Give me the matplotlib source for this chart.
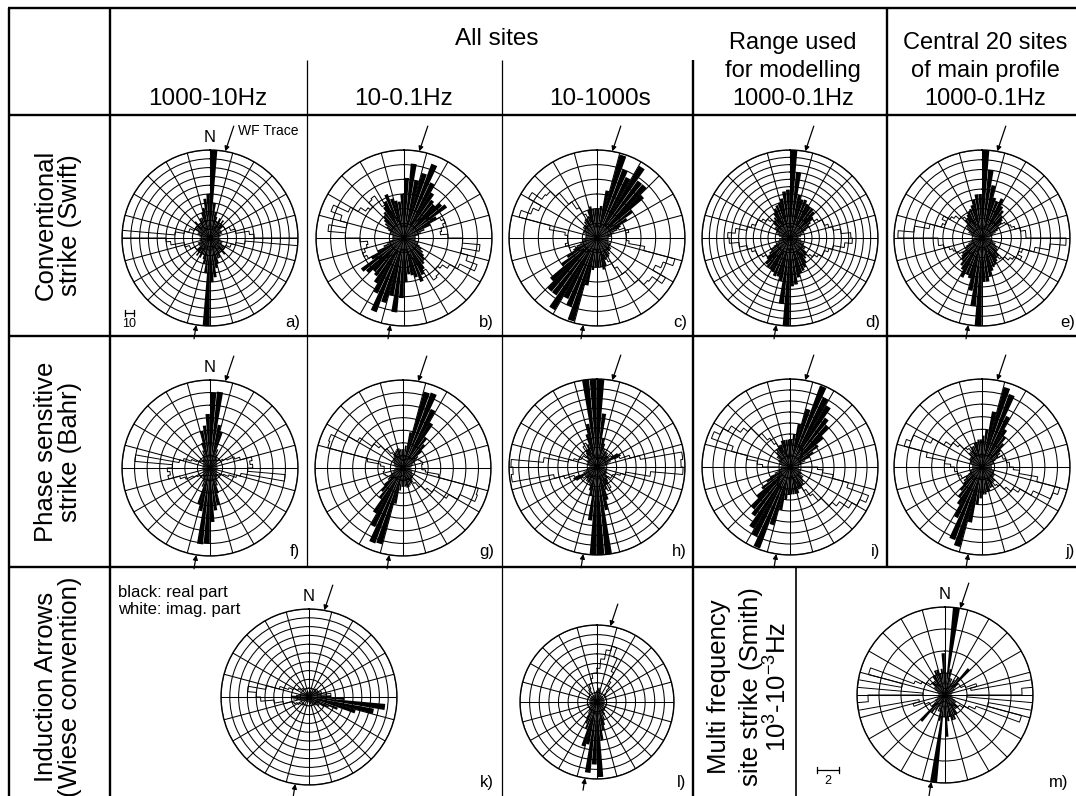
import numpy as np
import matplotlib.pyplot as plt

plt.rcParams['font.family'] = ['Liberation Sans', 'DejaVu Sans']
plt.rcParams['mathtext.fontset'] = 'custom'
plt.rcParams['mathtext.rm'] = 'Liberation Sans'
plt.rcParams['mathtext.it'] = 'Liberation Sans:italic'

W, H = 1076, 796

# rose values in ring units, 5 degree bins from north, clockwise
# axial data: 36 bins (0-180), repeated on the opposite side
a_black = [10, 4, 3, 2.5, 2, 2.5, 2, 2.5, 2, 2, 1.5, 1.5, 1.5, 1.5, 1.2, 1.2, 1.2, 1.0,
           1.0, 1.2, 1.2, 1.5, 1.5, 1.5, 2, 2, 2, 2.5, 2, 2, 2.5, 2.5, 3, 3.5, 4.5, 5]
a_white = [1, 1, 1, 1.2, 1.2, 1.5, 1.5, 1.5, 2, 2, 2, 2, 2.5, 2.5, 3, 3, 4.5, 5,
           10, 4, 3, 2.5, 2.5, 2, 2, 2, 2, 1.5, 1.5, 1.5, 1.2, 1.2, 1, 1, 1, 1]
b_black = [4.1, 5.1, 4.0, 4.6, 5.4, 4.2, 3.6, 3.2, 3.0, 3.4, 3.6, 2.6, 2.0, 1.5, 1.2, 1.0, 0.8, 0.8,
           0.8, 0.8, 0.8, 1.0, 1.0, 1.2, 1.4, 1.6, 1.8, 2.0, 2.2, 2.5, 2.8, 3.2, 2.8, 2.6, 2.5, 3.0]
b_white = [0.8, 0.8, 0.9, 1.0, 1.0, 1.2, 1.4, 1.5, 1.8, 2.0, 2.2, 2.4, 2.8, 3.0, 2.8, 2.6, 2.5, 3.0,
           4.0, 5.2, 4.0, 4.5, 5.3, 4.2, 3.6, 3.2, 3.0, 3.4, 3.5, 2.6, 2.0, 1.5, 1.2, 1.0, 0.8, 0.8]
c_black = [2.0, 2.2, 3.3, 5.9, 5.0, 4.6, 5.7, 4.8, 4.8, 4.2, 3.0, 2.4, 1.8, 1.5, 1.2, 1.0, 1.0, 0.8,
           0.8, 0.8, 0.8, 0.8, 1.0, 1.0, 1.0, 1.2, 1.2, 1.2, 1.4, 1.5, 1.5, 1.6, 2.0, 2.2, 2.0, 2.0]
c_white = [0.8, 0.8, 0.8, 0.8, 1.0, 1.0, 1.0, 1.2, 1.2, 1.2, 1.4, 1.5, 1.5, 1.6, 2.0, 2.2, 2.0, 2.0,
           2.0, 2.2, 3.3, 5.5, 4.8, 4.4, 5.4, 4.6, 4.5, 4.0, 3.0, 2.4, 1.8, 1.5, 1.2, 1.0, 1.0, 0.8]
d_black = [12, 9, 6, 5.5, 5.6, 5.2, 5.0, 5.0, 4.8, 4.2, 3.5, 3.0, 2.5, 2.0, 1.8, 1.5, 1.5, 1.2,
           1.2, 1.5, 1.5, 1.8, 2.0, 2.0, 2.5, 2.5, 3.0, 3.2, 3.5, 4.0, 4.5, 4.8, 5.0, 5.5, 6.4, 6.6]
d_white = [1.5, 1.5, 1.5, 2, 2, 2.5, 3, 3, 3.5, 3.5, 4, 4.5, 5, 5, 5.5, 6, 7, 8.3,
           8.5, 7.5, 6, 5.5, 5, 5, 4.5, 4, 3.5, 3, 3, 2.5, 2.5, 2, 2, 1.5, 1.5, 1.5]
e_black = [9, 7, 5.5, 4.3, 4, 4.5, 3.8, 3.5, 3, 2.8, 2.5, 2, 1.8, 1.5, 1.2, 1, 1, 0.8,
           0.8, 1, 1, 1.2, 1.5, 1.5, 1.8, 2, 2, 2.5, 2.5, 2.8, 3, 3.2, 3.5, 4, 4.5, 4.5]
e_white = [0.8, 1, 1, 1.2, 1.5, 1.5, 1.8, 2, 2, 2.5, 2.5, 2.8, 3, 3.2, 3.5, 4, 4.5, 4.5,
           8.6, 7, 5.5, 4.3, 4, 4.5, 3.8, 3.5, 3, 2.8, 2.5, 2, 1.8, 1.5, 1.2, 1, 1, 0.8]
f_black = [6.0, 6.1, 3.5, 3.0, 1.6, 1.2, 1.0, 0.9, 0.8, 0.8, 0.7, 0.7, 0.6, 0.6, 0.6, 0.6, 0.6, 0.6,
           0.6, 0.6, 0.6, 0.6, 0.6, 0.6, 0.7, 0.7, 0.8, 0.8, 0.9, 1.0, 1.2, 1.5, 2.1, 3.0, 3.4, 4.3]
f_white = [0.6, 0.6, 0.6, 0.6, 0.6, 0.7, 0.7, 0.8, 0.8, 0.9, 1.0, 1.2, 1.5, 2.1, 2.5, 3.4, 3.2, 3.4,
           3.0, 6.0, 2.5, 2.2, 1.6, 1.2, 1.0, 0.9, 0.8, 0.8, 0.7, 0.7, 0.6, 0.6, 0.6, 0.6, 0.6, 0.6]
g_black = [1.5, 1.8, 2.9, 6.3, 6.4, 5.2, 4.2, 3.0, 2.5, 2.0, 1.5, 1.2, 1.0, 0.9, 0.8, 0.7, 0.7, 0.6,
           0.6, 0.6, 0.7, 0.7, 0.8, 0.8, 0.9, 1.0, 1.0, 1.1, 1.2, 1.3, 1.4, 1.5, 1.6, 1.6, 1.5, 1.5]
g_white = [0.6, 0.6, 0.7, 0.7, 0.8, 0.8, 0.9, 1.0, 1.0, 1.1, 1.2, 1.3, 1.4, 1.5, 1.6, 1.6, 1.5, 1.5,
           1.5, 1.8, 2.9, 6.2, 6.3, 5.0, 4.2, 3.0, 2.5, 2.0, 1.5, 1.2, 1.0, 0.9, 0.8, 0.7, 0.7, 0.6]
h_black = [9, 5.5, 3, 2.5, 2, 1.8, 1.8, 1.8, 1.5, 1.5, 1.5, 2.5, 2.7, 1.5, 1.2, 1, 1, 0.8,
           0.8, 0.8, 1, 1, 1, 1.2, 1.2, 1.2, 1.5, 1.5, 1.8, 2, 2, 2.5, 3.5, 4.5, 9, 9]
h_white = [0.8, 0.8, 1, 1, 1, 1.2, 1.2, 1.2, 1.5, 1.5, 1.8, 2, 2, 2.5, 3.5, 4.5, 8.8, 8.6,
           8.8, 5.5, 3, 2.5, 2, 1.8, 1.8, 1.8, 1.5, 1.5, 1.5, 2.5, 2.7, 1.5, 1.2, 1, 1, 0.8]
i_black = [2.5, 3, 4, 5.5, 7.9, 7, 6.5, 5.5, 5, 4, 3.2, 2.5, 2, 1.5, 1.2, 1, 0.8, 0.8,
           0.8, 0.8, 0.8, 1, 1, 1.2, 1.2, 1.5, 1.5, 1.8, 2, 2, 2.2, 2.2, 2.5, 2.5, 2.5, 2.5]
i_white = [2.5, 2.5, 2.5, 2.2, 2.2, 2, 2, 1.8, 1.5, 1.5, 1.2, 1.2, 1, 1, 1, 0.8, 0.8, 0.8,
           2.5, 3, 4, 5.5, 7.6, 7, 6.5, 5.5, 5, 4, 3.2, 2.5, 2, 1.5, 1.2, 1, 0.8, 0.8]
j_black = [2.5, 3, 4.5, 6.6, 6.2, 4.5, 3.5, 3, 2.5, 2, 1.8, 1.5, 1.2, 1, 1, 0.8, 0.8, 0.8,
           0.8, 0.8, 0.8, 1, 1, 1, 1.2, 1.2, 1.2, 1.5, 1.5, 1.5, 1.8, 1.8, 2, 2, 2.2, 2.2]
j_white = [0.8, 0.8, 0.8, 1, 1, 1, 1.2, 1.2, 1.2, 1.5, 1.5, 1.5, 1.8, 1.8, 2, 2, 2.2, 2.2,
           2.5, 3, 4.5, 6.4, 6, 4.5, 3.5, 3, 2.5, 2, 1.8, 1.5, 1.2, 1, 1, 0.8, 0.8, 0.8]
# induction arrows are directional: 72 bins over the full circle
k_black = [0.8, 0.8, 0.6, 0.6, 0.6, 0.8, 0.8, 0.8, 1.0, 1.0, 1.0, 1.2,
           1.2, 1.2, 1.5, 1.5, 2.0, 2.5, 4.0, 8.7, 7.5, 5.5, 3.5, 2.5,
           2.0, 1.5, 1.5, 1.2, 1.2, 1.0, 1.0, 0.8, 0.8, 0.8, 0.6, 0.6,
           0.6, 0.6, 0.6, 0.6, 0.6, 0.6, 0.6, 0.6, 0.6, 0.8, 0.8, 0.8,
           1.0, 1.0, 1.2, 1.5, 1.8, 2.0, 2.0, 1.5, 1.2, 1.0, 1.0, 0.8,
           0.8, 0.8, 0.6, 0.6, 0.6, 0.6, 0.6, 0.6, 0.6, 0.6, 0.6, 0.6]
k_white = [1.0, 1.0, 1.0, 1.0, 1.0, 1.0, 1.0, 1.0, 1.2, 1.2, 1.2, 1.2,
           1.2, 1.5, 1.5, 2.0, 2.5, 2.5, 2.0, 1.5, 1.5, 1.2, 1.2, 1.2,
           1.0, 1.0, 1.0, 1.0, 1.0, 1.0, 1.0, 1.0, 1.0, 1.0, 1.0, 1.0,
           1.0, 1.0, 1.0, 1.0, 1.0, 1.0, 1.0, 1.0, 1.2, 1.2, 1.2, 1.5,
           1.5, 1.8, 2.0, 3.0, 4.0, 5.5, 6.0, 7.0, 5.0, 3.5, 2.5, 2.0,
           1.5, 1.5, 1.2, 1.2, 1.2, 1.0, 1.0, 1.0, 1.0, 1.0, 1.0, 1.0]
l_black = [1.2, 1.5, 1.5, 1.2, 1.0, 0.8, 0.8, 0.8, 0.8, 0.8, 0.8, 0.8,
           0.8, 0.8, 0.8, 0.8, 0.8, 0.8, 0.8, 0.8, 0.8, 0.8, 0.8, 0.8,
           0.8, 1.0, 1.0, 1.2, 1.2, 1.5, 1.5, 2.0, 2.5, 3.0, 4.0, 7.8,
           6.5, 7.4, 4.5, 4.8, 3.0, 2.5, 2.0, 1.5, 1.2, 1.0, 1.0, 0.8,
           0.8, 0.8, 0.8, 0.8, 0.8, 0.8, 0.8, 0.8, 0.8, 0.8, 0.8, 0.8,
           0.8, 0.8, 0.8, 0.8, 0.8, 0.8, 0.8, 0.8, 0.8, 1.0, 1.0, 1.2]
l_white = [3.5, 4.5, 5.5, 6.0, 5.0, 3.5, 2.5, 2.0, 1.5, 1.2, 1.0, 1.0,
           1.0, 1.0, 1.0, 1.0, 1.0, 1.0, 1.0, 1.0, 1.0, 1.0, 1.0, 1.0,
           1.0, 1.0, 1.0, 1.0, 1.0, 1.0, 1.0, 1.0, 1.0, 1.0, 1.0, 1.0,
           1.0, 1.0, 1.2, 1.2, 1.0, 1.0, 1.0, 1.0, 1.0, 1.0, 1.0, 1.0,
           1.0, 1.0, 1.0, 1.0, 1.0, 1.0, 1.0, 1.0, 1.0, 1.0, 1.0, 1.0,
           1.0, 1.0, 1.0, 1.2, 1.2, 1.5, 1.5, 2.0, 2.0, 2.5, 3.0, 3.0]
m_black = [1.0, 4.0, 1.2, 0.8, 0.8, 0.6, 0.8, 1.0, 1.6, 0.8, 0.6, 0.5, 0.5, 0.4, 0.4, 0.3, 0.3, 0.3,
           0.3, 0.3, 0.3, 0.4, 0.4, 0.5, 0.6, 0.6, 0.8, 0.8, 0.8, 1.0, 1.0, 1.2, 1.2, 1.0, 1.2, 1.9]
m_white = [0.3, 0.3, 0.3, 0.3, 0.4, 0.4, 0.5, 0.5, 0.6, 0.6, 0.8, 0.8, 0.8, 1.0, 1.5, 1.2, 4.0, 3.5,
           1.0, 4.0, 2.0, 3.6, 1.5, 1.2, 1.0, 0.8, 0.8, 0.6, 0.6, 0.5, 0.5, 0.4, 0.4, 0.3, 0.3, 0.3]

col_titles = ['1000-10Hz', '10-0.1Hz', '10-1000s']
row_titles = [('Conventional', 'strike (Swift)'),
              ('Phase sensitive', 'strike (Bahr)'),
              ('Induction Arrows', '(Wiese convention)')]

fig = plt.figure(figsize=(W / 100, H / 100), dpi=100)
bg = fig.add_axes([0, 0, 1, 1])
bg.set_xlim(0, W)
bg.set_ylim(H, 0)
bg.axis('off')

THICK, THIN = 1.7, 0.9


def hline(y, x0, x1, lw=THICK):
    bg.plot([x0, x1], [y, y], color='black', lw=lw, solid_capstyle='butt')


def vline(x, y0, y1, lw=THICK):
    bg.plot([x, x], [y0, y1], color='black', lw=lw, solid_capstyle='butt')


# table frame
for y in (8, 115, 336, 567):
    hline(y, 8, W)
vline(9, 8, H)
vline(110, 8, H)
vline(693, 60, H)
vline(887, 8, 567)
vline(307, 60, 567, THIN)
vline(502, 60, H, THIN)
vline(796, 567, H, 1.2)

# header texts
bg.text(497, 45, 'All sites', fontsize=17.5, ha='center', va='baseline')
for x, t in zip((208, 404, 600), col_titles):
    bg.text(x, 105, t, fontsize=17.5, ha='center', va='baseline')
for y, t in zip((49, 77, 105), ('Range used', 'for modelling', '1000-0.1Hz')):
    bg.text(793, y, t, fontsize=17, ha='center', va='baseline')
for y, t in zip((49, 77, 105), ('Central 20 sites', 'of main profile', '1000-0.1Hz')):
    bg.text(985, y, t, fontsize=17, ha='center', va='baseline')

for yc, (l1, l2) in zip((225, 452, 687), row_titles):
    bg.text(53, yc, l1, fontsize=18.5, rotation=90, rotation_mode='anchor',
            ha='center', va='baseline')
    bg.text(77, yc, l2, fontsize=18.5, rotation=90, rotation_mode='anchor',
            ha='center', va='baseline')
for x, t in zip((726, 758, 787), ('Multi frequency', 'site strike (Smith)',
                                  r'$10^3$-$10^{-3}$Hz')):
    bg.text(x, 687, t, fontsize=18.5, rotation=90, rotation_mode='anchor',
            ha='center', va='baseline')

bg.text(118, 597, 'black: real part', fontsize=12, va='baseline')
bg.text(118, 614, 'white: imag. part', fontsize=12, va='baseline')


def rose(cx, cy, rad, rings, black, white, label, lx, ly, north=False):
    ax = fig.add_axes([(cx - rad) / W, 1 - (cy + rad) / H, 2 * rad / W, 2 * rad / H],
                      projection='polar')
    ax.set_theta_zero_location('N')
    ax.set_theta_direction(-1)
    ax.set_facecolor('none')
    ax.set_ylim(0, rings)
    ax.set_xticks(np.deg2rad(np.arange(0, 360, 15)))
    ax.set_xticklabels([])
    ax.set_yticks(np.arange(1, rings + 1))
    ax.set_yticklabels([])
    ax.tick_params(length=0)
    ax.grid(True, color='black', lw=0.75)
    ax.spines['polar'].set_linewidth(1.0)

    black = np.asarray(black, float)
    white = np.asarray(white, float)
    if len(black) == 36:
        black = np.concatenate([black, black])
    if len(white) == 36:
        white = np.concatenate([white, white])
    edges = np.arange(0, 360, 5)

    # white: stepped outline around the bins
    tt, rr = [], []
    for e, v in zip(edges, white):
        tt.extend(np.deg2rad(np.linspace(e, e + 5, 8)))
        rr.extend([v] * 8)
    tt.append(tt[0])
    rr.append(rr[0])
    ax.plot(tt, rr, color='black', lw=0.7, zorder=2)

    ax.bar(np.deg2rad(edges + 2.5), black, width=np.deg2rad(4.6), bottom=0,
           color='black', edgecolor='none', zorder=3)

    arrow = dict(arrowstyle='-|>', color='black', lw=0.9, mutation_scale=7,
                 shrinkA=0, shrinkB=0)
    ax.annotate('', xy=(np.deg2rad(10), rings), xytext=(np.deg2rad(12), rings * 1.3),
                arrowprops=arrow, annotation_clip=False)
    ax.annotate('', xy=(np.deg2rad(189), rings), xytext=(np.deg2rad(189), rings * 1.16),
                arrowprops=arrow, annotation_clip=False)
    if north:
        ax.text(0, rings * 1.14, 'N', fontsize=12, ha='center', va='center', clip_on=False)
    bg.text(lx, ly, label, fontsize=12, ha='right', va='baseline')
    return ax


R = 88
rose(210, 238, R, 10, a_black, a_white, 'a)', 300, 327, north=True)
rose(404, 238, R, 6, b_black, b_white, 'b)', 494, 327)
rose(597, 238, R, 6, c_black, c_white, 'c)', 687, 327)
rose(790, 238, R, 12, d_black, d_white, 'd)', 880, 327)
rose(982, 238, R, 9, e_black, e_white, 'e)', 1075, 327)
rose(210, 468, R, 7, f_black, f_white, 'f)', 300, 556, north=True)
rose(403, 468, R, 7, g_black, g_white, 'g)', 494, 556)
rose(597, 467, R, 9, h_black, h_white, 'h)', 687, 556)
rose(790, 467, R, 8, i_black, i_white, 'i)', 880, 556)
rose(982, 467, R, 7, j_black, j_white, 'j)', 1075, 556)
rose(309, 697, R, 10, k_black, k_white, 'k)', 494, 787, north=True)
rose(597, 702, 77, 8, l_black, l_white, 'l)', 686, 787)
rose(945, 695, R, 4, m_black, m_white, 'm)', 1068, 787, north=True)

bg.text(238, 135, 'WF Trace', fontsize=10, va='baseline')


def scale_bar(x0, y, length, text):
    bg.plot([x0, x0 + length], [y, y], color='black', lw=0.9)
    for x in (x0, x0 + length):
        bg.plot([x, x], [y - 3, y + 3], color='black', lw=0.9)
    bg.text(x0 + length / 2, y + 14, text, fontsize=9, ha='center', va='baseline')


scale_bar(125, 313, R / 10, '10')
scale_bar(817, 770, R / 4, '2')

fig.savefig('out.png', dpi=100)
